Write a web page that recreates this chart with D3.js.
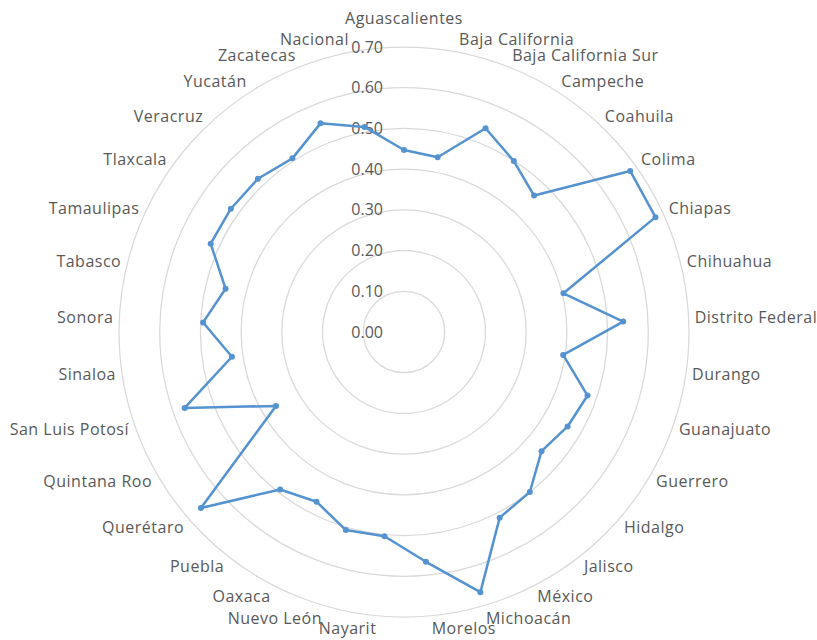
<!DOCTYPE html>
<html>
<head>
<meta charset="utf-8">
<script src="https://cdn.jsdelivr.net/npm/d3@7/dist/d3.min.js"></script>
<style>
  body { margin: 0; background: #fff; }
  text { font-family: "Open Sans", sans-serif; fill: #595959; }
</style>
</head>
<body>
<div class="chart"></div>
<script>
const w = 817;
const h = 640;

const categories = ["Aguascalientes", "Baja California", "Baja California Sur", "Campeche", "Coahuila",
  "Colima", "Chiapas", "Chihuahua", "Distrito Federal", "Durango", "Guanajuato", "Guerrero", "Hidalgo",
  "Jalisco", "México", "Michoacán", "Morelos", "Nayarit", "Nuevo León", "Oaxaca", "Puebla", "Querétaro",
  "Quintana Roo", "San Luis Potosí", "Sinaloa", "Sonora", "Tabasco", "Tamaulipas", "Tlaxcala", "Veracruz",
  "Yucatán", "Zacatecas", "Nacional"];
const values = [0.447, 0.437, 0.539, 0.499, 0.463, 0.682, 0.679, 0.403, 0.539, 0.395, 0.477, 0.464, 0.447,
  0.500, 0.513, 0.666, 0.567, 0.504, 0.507, 0.469, 0.492, 0.660, 0.363, 0.570, 0.427, 0.494, 0.451, 0.522,
  0.522, 0.520, 0.507, 0.552, 0.513];
const ticks = [0, 0.1, 0.2, 0.3, 0.4, 0.5, 0.6, 0.7];

const cx = 404, cy = 332, radius = 285;
const labelGap = 6;
const fontSize = 16;

const svg = d3.select(".chart")
  .append("svg")
  .attr("width", w)
  .attr("height", h);

const g = svg.append("g").attr("transform", `translate(${cx},${cy})`);

const r = d3.scaleLinear().domain([0, 0.7]).range([0, radius]);
const angle = d3.scaleLinear().domain([0, categories.length]).range([0, 2 * Math.PI]);

// rings
g.append("g")
  .selectAll("circle")
  .data(ticks.filter(d => d > 0))
  .enter().append("circle")
  .attr("r", d => r(d))
  .attr("fill", "none")
  .attr("stroke", "#d9d9d9")
  .attr("stroke-width", 1.25);

// value labels
g.append("g")
  .selectAll("text")
  .data(ticks)
  .enter().append("text")
  .attr("x", -21)
  .attr("y", d => -r(d))
  .attr("dy", "0.35em")
  .attr("text-anchor", "end")
  .attr("font-size", fontSize + "px")
  .text(d3.format(".2f"));

// series
const line = d3.lineRadial()
  .angle((d, i) => angle(i))
  .radius(d => r(d))
  .curve(d3.curveLinearClosed);

g.append("path")
  .datum(values)
  .attr("d", line)
  .attr("fill", "none")
  .attr("stroke", "#5592d0")
  .attr("stroke-width", 2.5)
  .attr("stroke-linejoin", "round");

g.append("g")
  .selectAll("circle")
  .data(values)
  .enter().append("circle")
  .attr("cx", (d, i) => Math.sin(angle(i)) * r(d))
  .attr("cy", (d, i) => -Math.cos(angle(i)) * r(d))
  .attr("r", 3)
  .attr("fill", "#5592d0");

// category labels (the one straight above sits over the 0.70 tick label)
g.append("g")
  .selectAll("text")
  .data(categories)
  .enter().append("text")
  .attr("x", (d, i) => Math.sin(angle(i)) * (radius + labelGap))
  .attr("y", (d, i) => {
    const c = Math.cos(angle(i)), s = Math.sin(angle(i));
    let y = -c * (radius + labelGap) - c * 7;
    if (Math.abs(s) < 0.05 && c > 0) y -= 16;
    return y;
  })
  .attr("dy", "0.35em")
  .attr("text-anchor", (d, i) => {
    const s = Math.sin(angle(i));
    return Math.abs(s) < 0.05 ? "middle" : (s > 0 ? "start" : "end");
  })
  .attr("font-size", fontSize + "px")
  .attr("letter-spacing", "0.5px")
  .text(d => d);
</script>
</body>
</html>
